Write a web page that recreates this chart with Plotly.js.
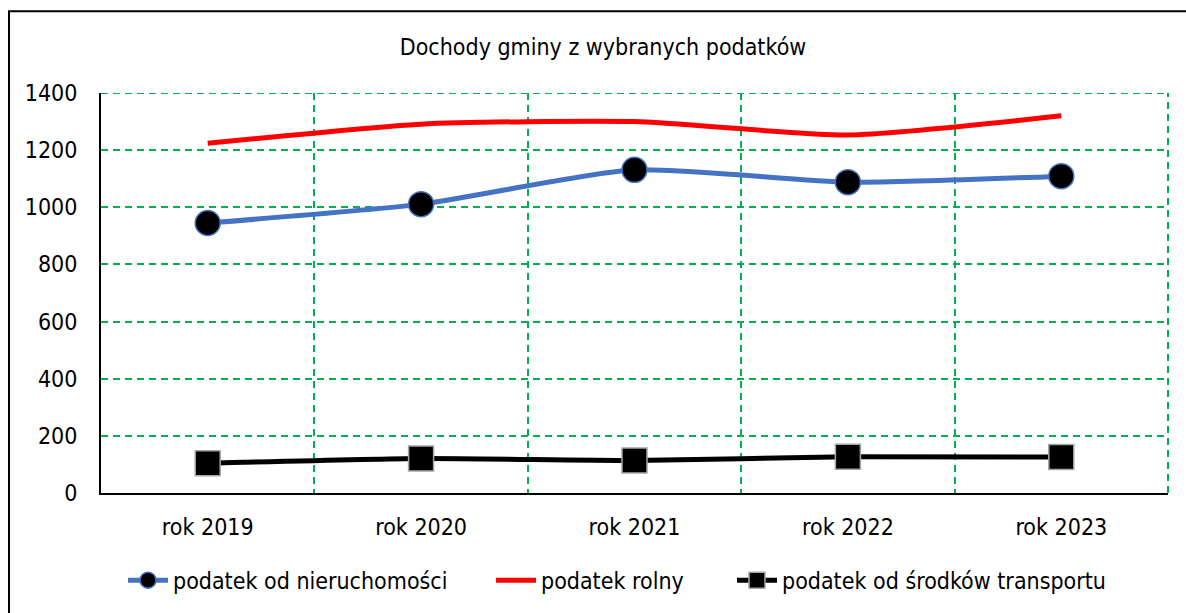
<!DOCTYPE html>
<html>
<head>
<meta charset="utf-8">
<script src="https://cdn.plot.ly/plotly-3.0.1.min.js"></script>
<style>html,body{margin:0;padding:0;background:#fff;}#chart{width:1186px;height:613px;}</style>
</head>
<body>
<div id="chart"></div>
<script>
const categories = ["rok 2019", "rok 2020", "rok 2021", "rok 2022", "rok 2023"];
const nieruchomosci = [945, 1011, 1131, 1088, 1109];
const rolny = [1224, 1291, 1300, 1253, 1320];
const transport = [104, 121, 114, 127, 126];
const seriesNames = ["podatek od nieruchomości", "podatek rolny", "podatek od środków transportu"];
const chartTitle = "Dochody gminy z wybranych podatków";
const yMax = 1400;

const FONT = "'DejaVu Sans Condensed', 'DejaVu Sans', sans-serif";
const FS = 23;
const GRID = "#00B050";
const DASH = "7px,5px";

const traces = [
  {
    x: categories, y: nieruchomosci, name: seriesNames[0], type: "scatter", mode: "lines+markers", legend: "legend",
    line: {color: "#4472C4", width: 5, shape: "spline", smoothing: 0.6},
    marker: {symbol: "circle", size: 25, color: "#000000", line: {color: "#4472C4", width: 1.5}}
  },
  {
    x: categories, y: rolny, name: seriesNames[1], type: "scatter", mode: "lines", legend: "legend2",
    line: {color: "#FF0000", width: 5, shape: "spline", smoothing: 0.6}
  },
  {
    x: categories, y: transport, name: seriesNames[2], type: "scatter", mode: "lines+markers", legend: "legend3",
    line: {color: "#000000", width: 5, shape: "spline", smoothing: 0.6},
    marker: {symbol: "square", size: 25, color: "#000000", line: {color: "#A6A6A6", width: 1.5}}
  }
];

const L = 101, R = 18, T = 93, B = 119;
const pw = 1186 - L - R, ph = 613 - T - B;
const px2x = p => (p - L) / pw;
const legY = -0.215;
function leg(textStart) {
  return {orientation: "h", x: px2x(textStart - 47), xanchor: "left", y: legY, yanchor: "middle",
    font: {family: FONT, size: FS, color: "#000000"}, itemwidth: 40, bgcolor: "rgba(0,0,0,0)"};
}

const layout = {
  width: 1186, height: 613,
  margin: {l: L, r: R, t: T, b: B, pad: 0},
  paper_bgcolor: "#ffffff", plot_bgcolor: "#ffffff",
  font: {family: FONT, size: FS, color: "#000000"},
  title: {text: chartTitle, font: {family: FONT, size: FS, color: "#000000"},
    x: 603 / 1186, xanchor: "center", xref: "container", y: 1 - 47 / 613, yanchor: "middle", yref: "container"},
  showlegend: true,
  legend: leg(170),
  legend2: leg(538),
  legend3: leg(779),
  xaxis: {
    type: "category", range: [-0.5, 4.5], tickson: "boundaries",
    showgrid: true, gridcolor: GRID, gridwidth: 2, griddash: DASH,
    showline: true, linecolor: "#000000", linewidth: 2,
    ticks: "", ticklabelstandoff: 12, zeroline: false,
    tickfont: {family: FONT, size: FS, color: "#000000"}
  },
  yaxis: {
    range: [0, yMax], dtick: 200, tick0: 0,
    showgrid: true, gridcolor: GRID, gridwidth: 2, griddash: DASH,
    showline: true, linecolor: "#000000", linewidth: 2,
    ticks: "", ticklabelstandoff: 17, zeroline: false,
    tickfont: {family: FONT, size: FS, color: "#000000"}
  },
  shapes: [
    {type: "line", xref: "paper", yref: "y", x0: 0, x1: 1, y0: yMax, y1: yMax,
      line: {color: GRID, width: 2, dash: DASH}, layer: "below"},
    {type: "line", xref: "paper", yref: "paper", x0: 1, x1: 1, y0: 0, y1: 1,
      line: {color: GRID, width: 2, dash: DASH}, layer: "below"},
    {type: "rect", xref: "paper", yref: "paper",
      x0: px2x(9), x1: px2x(1195),
      y0: (613 - B - 620) / ph, y1: (613 - B - 11) / ph,
      line: {color: "#000000", width: 2}, fillcolor: "rgba(0,0,0,0)", layer: "above"}
  ]
};

Plotly.newPlot("chart", traces, layout, {staticPlot: true, displayModeBar: false});
</script>
</body>
</html>
